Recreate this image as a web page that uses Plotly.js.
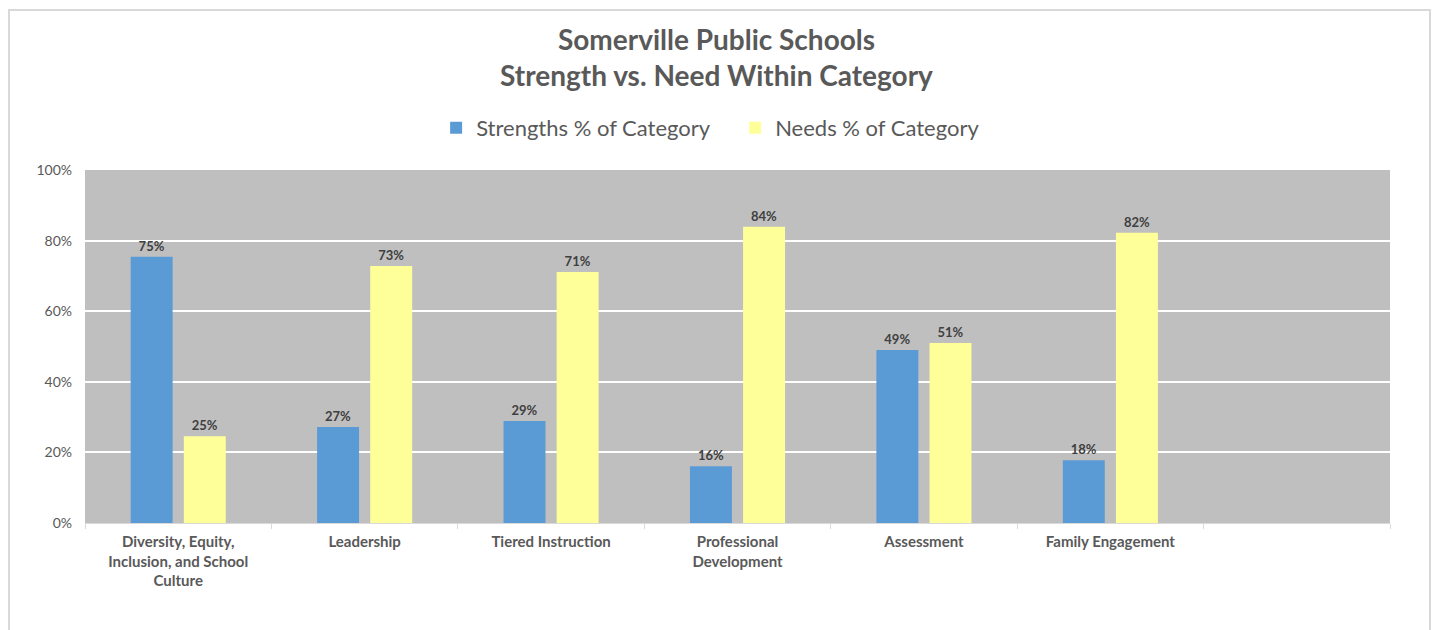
<!DOCTYPE html>
<html>
<head>
<meta charset="utf-8">
<script src="https://cdn.plot.ly/plotly-3.0.1.min.js"></script>
<style>
  html, body { margin: 0; padding: 0; background: #fff; }
  #frame { position: absolute; left: 8px; top: 9px; width: 1419px; height: 640px;
           border-left: 2px solid #d9d9d9; border-top: 2px solid #d9d9d9; border-right: 2px solid #d9d9d9; }
  #chart { position: absolute; left: 0; top: 0; width: 1433px; height: 630px; }
</style>
</head>
<body>
<div id="frame"></div>
<div id="chart"></div>
<script>
const categories = [
  "Diversity, Equity,<br>Inclusion, and School<br>Culture",
  "Leadership",
  "Tiered Instruction",
  "Professional<br>Development",
  "Assessment",
  "Family Engagement",
  " "
];
const strengths = [0.754, 0.272, 0.289, 0.161, 0.490, 0.178, null];
const needs     = [0.246, 0.728, 0.711, 0.839, 0.510, 0.822, null];
const seriesNames = ["Strengths % of Category", "Needs % of Category"];
const tickVals = [0, 0.2, 0.4, 0.6, 0.8, 1.0];

const FONT = "Lato, 'Open Sans', sans-serif";
const labelFont = { family: FONT, size: 13, color: "#404040", weight: "bold" };

const traces = [
  { type: "bar", name: seriesNames[0], x: categories, y: strengths,
    marker: { color: "#5b9bd5" },
    texttemplate: "<b>%{y:.0%}</b>", textposition: "outside", cliponaxis: false,
    textfont: labelFont, hoverinfo: "skip" },
  { type: "bar", name: seriesNames[1], x: categories, y: needs,
    marker: { color: "#ffff99" },
    texttemplate: "<b>%{y:.0%}</b>", textposition: "outside", cliponaxis: false,
    textfont: labelFont, hoverinfo: "skip" }
];

const layout = {
  width: 1433, height: 630,
  paper_bgcolor: "rgba(0,0,0,0)",
  plot_bgcolor: "#bfbfbf",
  margin: { l: 85, r: 43, t: 170, b: 107 },
  barmode: "group",
  bargap: 0.43,
  bargroupgap: 0.21,
  title: {
    text: "<b>Somerville Public Schools<br>Strength vs. Need Within Category</b>",
    font: { family: FONT, size: 28, color: "#595959" },
    x: 0.5, xanchor: "center",
    yref: "container", y: 1 - 50/630, yanchor: "top"
  },
  showlegend: true,
  legend: {
    orientation: "h",
    xref: "container", yref: "container",
    x: 0.513, xanchor: "center",
    y: 1 - 128/630, yanchor: "middle",
    entrywidthmode: "pixels", entrywidth: 254,
    font: { family: FONT, size: 22, color: "#595959" },
    itemclick: false, itemdoubleclick: false,
    traceorder: "normal"
  },
  xaxis: {
    type: "category",
    tickson: "boundaries",
    ticks: "outside", ticklen: 5, tickcolor: "#d9d9d9", tickwidth: 1,
    showline: true, linecolor: "#d9d9d9", linewidth: 1,
    showgrid: false,
    ticklabelstandoff: 5,
    tickfont: { family: FONT, size: 15, color: "#595959", weight: "bold" },
    fixedrange: true
  },
  yaxis: {
    range: [0, 1],
    tickvals: tickVals,
    tickformat: ".0%",
    showgrid: true, gridcolor: "#ffffff", gridwidth: 2,
    zeroline: false, showline: false,
    ticks: "", ticklen: 0,
    ticklabelstandoff: 12,
    tickfont: { family: FONT, size: 14, color: "#595959" },
    fixedrange: true
  },
  hovermode: false
};

Plotly.newPlot("chart", traces, layout, { displayModeBar: false, staticPlot: true });
</script>
</body>
</html>
